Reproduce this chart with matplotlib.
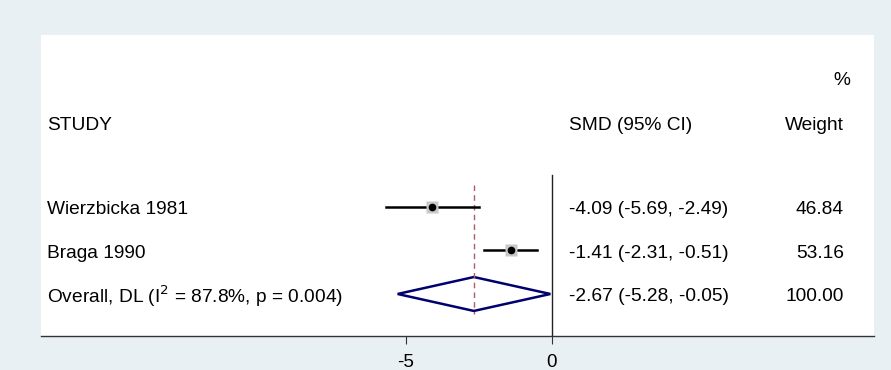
import matplotlib.pyplot as plt
from matplotlib.patches import Polygon

plt.rcParams['font.family'] = ['Liberation Sans', 'DejaVu Sans']

# datos del forest plot
studies = ["Wierzbicka 1981", "Braga 1990"]
smd = [-4.09, -1.41]
ci_lo = [-5.69, -2.31]
ci_hi = [-2.49, -0.51]
weights = [46.84, 53.16]
pooled = -2.67
pooled_lo = -5.28
pooled_hi = -0.05
pooled_label = "Overall, DL (I$^2$ = 87.8%, p = 0.004)"
xticks = [-5, 0]

bg = '#e8f0f3'
fig = plt.figure(figsize=(8.91, 3.70), dpi=100, facecolor=bg)
# panel blanco: x 41..874, y 35..336 (pixeles)
ax = fig.add_axes([41/891, (370-336)/370, (874-41)/891, (336-35)/370])
ax.set_facecolor('white')
ax.set_xlim(-17.49, 11.03)
ax.set_ylim(2.966, -3.954)

for s in ['top', 'right', 'left']:
    ax.spines[s].set_visible(False)
ax.spines['bottom'].set_color('#333333')
ax.spines['bottom'].set_linewidth(1)
ax.set_yticks([])
ax.set_xticks(xticks)
ax.set_xticklabels([str(t) for t in xticks], fontsize=13.5)
ax.tick_params(axis='x', length=6, color='#333333', pad=7)

# linea nula y linea del efecto combinado
ax.plot([0, 0], [-0.74, 2.966], color='#222222', lw=1)
ax.plot([pooled, pooled], [-0.5, 2.46], color='#b05a6a', lw=1, ls=(0, (4, 3)))

# estudios
for i in range(len(studies)):
    ax.plot([ci_lo[i], ci_hi[i]], [i, i], color='black', lw=1.8)
    ax.plot(smd[i], i, 's', ms=8, color='#c8c8c8', mec='none')
    ax.plot(smd[i], i, 'o', ms=4.5, color='black')

# diamante
k = len(studies)
dia = Polygon([[pooled_lo, k], [pooled, k - 0.39], [pooled_hi, k], [pooled, k + 0.39]],
              closed=True, fill=False, ec='#00006e', lw=1.8)
ax.add_patch(dia)

# textos
xname = -17.29
xsmd = 0.6
xw = 10.0
fs = 13.8
dy = 0.06
ax.text(xname, -1.93 + dy, "STUDY", fontsize=fs, va='center')
ax.text(xsmd, -1.93 + dy, "SMD (95% CI)", fontsize=fs, va='center')
ax.text(xw, -1.93 + dy, "Weight", fontsize=fs, va='center', ha='right')
ax.text(xw + 0.2, -2.97 + dy, "%", fontsize=fs, va='center', ha='right')

for i in range(len(studies)):
    ax.text(xname, i + dy, studies[i], fontsize=fs, va='center')
    ax.text(xsmd, i + dy, f"{smd[i]:.2f} ({ci_lo[i]:.2f}, {ci_hi[i]:.2f})", fontsize=fs, va='center')
    ax.text(xw, i + dy, f"{weights[i]:.2f}", fontsize=fs, va='center', ha='right')
ax.text(xname, k + dy, pooled_label, fontsize=fs, va='center')
ax.text(xsmd, k + dy, f"{pooled:.2f} ({pooled_lo:.2f}, {pooled_hi:.2f})", fontsize=fs, va='center')
ax.text(xw, k + dy, "100.00", fontsize=fs, va='center', ha='right')

fig.savefig('out.png', dpi=100, facecolor=bg)
